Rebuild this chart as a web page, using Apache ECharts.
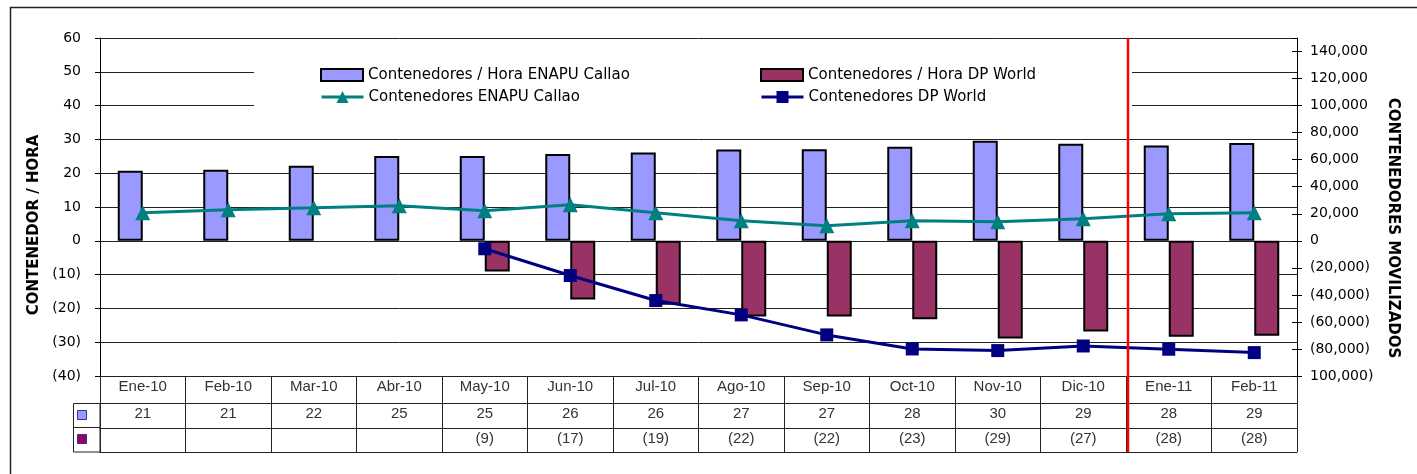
<!DOCTYPE html>
<html>
<head>
<meta charset="utf-8">
<script src="https://cdn.jsdelivr.net/npm/echarts@6/dist/echarts.min.js"></script>
<style>html,body{margin:0;padding:0;background:#fff}#c{width:1417px;height:474px}</style>
</head>
<body>
<div id="c"></div>
<script>
const months = ['Ene-10','Feb-10','Mar-10','Abr-10','May-10','Jun-10','Jul-10','Ago-10','Sep-10','Oct-10','Nov-10','Dic-10','Ene-11','Feb-11'];
const enapuRate = [20.7,21.0,22.2,25.1,25.1,25.7,26.1,27.0,27.1,27.8,29.6,28.7,28.2,28.9];
const dpRate = [null,null,null,null,-9.1,-17.4,-18.9,-22.4,-22.4,-23.2,-28.9,-26.8,-28.4,-28.1];
const enapuCont = [20700,23000,24400,26000,22200,26700,20700,14800,11100,14800,14000,16300,20000,20700];
const dpCont = [null,null,null,null,-5900,-25700,-44200,-54800,-69600,-80000,-81200,-77800,-80200,-82700];
const names = ['Contenedores / Hora ENAPU Callao','Contenedores / Hora DP World','Contenedores ENAPU Callao','Contenedores DP World'];

const fmtThousands = v => Math.abs(v).toString().replace(/\B(?=(\d{3})+(?!\d))/g, ',');
const leftFmt = v => v < 0 ? '(' + Math.abs(v) + ')' : String(v);
const rightFmt = v => v === 0 ? '0' : (v === -100000 ? fmtThousands(v) + ')' : (v < 0 ? '(' + fmtThousands(v) + ')' : fmtThousands(v)));
const tblFont = {fontFamily:'Liberation Sans', fontSize:15, color:'#333'};
const axFont = {fontFamily:'DejaVu Sans', fontSize:14, color:'#000'};

const chart = echarts.init(document.getElementById('c'), null, {renderer:'canvas'});
const legendBase = (name, left, top, icon, h) => ({
  data:[{name:name, icon:icon}], left:left, top:top, padding:0, itemWidth:42, itemHeight:h,
  selectedMode:false, lineStyle:{width:3}, itemStyle:{borderWidth:2},
  textStyle:{fontFamily:'DejaVu Sans', fontSize:15, color:'#000', lineHeight:16}
});
const lineAxis = {show:true, onZero:false, lineStyle:{color:'#222', width:1}};
const option = {
  animation:false,
  backgroundColor:'#fff',
  grid:{left:100, right:120, top:38, bottom:98, containLabel:false, outerBoundsMode:'none'},
  legend:[
    legendBase(names[0], 320, 67, 'rect', 12), legendBase(names[1], 760, 67, 'rect', 12),
    legendBase(names[2], 320, 89, undefined, 15), legendBase(names[3], 760, 89, undefined, 15)
  ],
  xAxis:[
    {type:'category', data:months, position:'bottom', boundaryGap:true,
     axisLine:lineAxis,
     axisTick:{show:true, interval:0, length:76, lineStyle:{color:'#222', width:1}},
     axisLabel:Object.assign({interval:0, margin:3}, tblFont), splitLine:{show:false}},
    {type:'category', data:months, position:'bottom', offset:27, boundaryGap:true,
     axisLine:lineAxis, axisTick:{show:false},
     axisLabel:Object.assign({interval:0, margin:3, formatter:(v,i)=> enapuRate[i]==null ? '' : String(Math.round(enapuRate[i]))}, tblFont)},
    {type:'category', data:months, position:'bottom', offset:52, boundaryGap:true,
     axisLine:lineAxis, axisTick:{show:false},
     axisLabel:Object.assign({interval:0, margin:3, formatter:(v,i)=> dpRate[i]==null ? '' : '(' + Math.round(Math.abs(dpRate[i])) + ')'}, tblFont)},
    {type:'category', data:months, position:'bottom', offset:76, boundaryGap:true,
     axisLine:lineAxis, axisTick:{show:false}, axisLabel:{show:false}}
  ],
  yAxis:[
    {type:'value', min:-40, max:60, interval:10, position:'left',
     name:'CONTENEDOR / HORA', nameLocation:'middle', nameRotate:90, nameGap:52,
     nameTextStyle:{fontFamily:'DejaVu Sans', fontSize:15, fontWeight:'bold', color:'#000', padding:[0,36,0,0]},
     axisLine:{show:true, onZero:false, lineStyle:{color:'#000'}},
     axisTick:{show:true, length:5, lineStyle:{color:'#000'}},
     axisLabel:Object.assign({margin:19, formatter:leftFmt}, axFont),
     splitLine:{show:true, lineStyle:{color:'#222', width:1}}},
    {type:'value', min:-100000, max:150000, interval:20000, position:'right',
     name:'CONTENEDORES MOVILIZADOS', nameLocation:'middle', nameRotate:-90, nameGap:88,
     nameTextStyle:{fontFamily:'DejaVu Sans', fontSize:15, fontWeight:'bold', color:'#000', padding:[0,0,0,42]},
     axisLine:{show:true, onZero:false, lineStyle:{color:'#000'}},
     axisTick:{show:true, length:5, lineStyle:{color:'#000'}},
     axisLabel:Object.assign({margin:13, formatter:rightFmt, showMaxLabel:false}, axFont),
     splitLine:{show:false}},
    {type:'value', min:-100000, max:150000, interval:20000, position:'right',
     axisLine:{show:false, onZero:false}, axisTick:{show:true, inside:true, length:5, lineStyle:{color:'#000'}},
     axisLabel:{show:false}, splitLine:{show:false}}
  ],
  series:[
    {name:names[0], type:'bar', data:enapuRate, xAxisIndex:0, yAxisIndex:0, barWidth:25, barGap:'0%',
     itemStyle:{color:'#9999FF', borderColor:'#000', borderWidth:2}, z:2},
    {name:names[1], type:'bar', data:dpRate, xAxisIndex:0, yAxisIndex:0, barWidth:25, barGap:'0%',
     itemStyle:{color:'#993366', borderColor:'#000', borderWidth:2}, z:2},
    {name:names[2], type:'line', data:enapuCont, xAxisIndex:0, yAxisIndex:1,
     symbol:'triangle', symbolSize:15, lineStyle:{color:'#008080', width:3},
     itemStyle:{color:'#008080'}, z:3},
    {name:names[3], type:'line', data:dpCont, xAxisIndex:0, yAxisIndex:1, connectNulls:false,
     symbol:'rect', symbolSize:13, lineStyle:{color:'#000080', width:3},
     itemStyle:{color:'#000080'}, z:3}
  ]
};
chart.setOption(option);

const xA = chart.convertToPixel({xAxisIndex:0}, months[11]);
const xB = chart.convertToPixel({xAxisIndex:0}, months[12]);
const redX = (xA + xB) / 2 + 2;
chart.setOption({
  graphic:[
    {type:'rect', z:1, silent:true, shape:{x:254, y:58, width:878, height:54}, style:{fill:'#fff'}},
    {type:'line', z:1, shape:{x1:10, y1:7.5, x2:1417, y2:7.5}, style:{stroke:'#222', lineWidth:1.5}},
    {type:'line', z:1, shape:{x1:10.5, y1:7, x2:10.5, y2:474}, style:{stroke:'#222', lineWidth:1.5}},
    {type:'rect', z:1, shape:{x:73.5, y:403.5, width:26.5, height:48.5}, style:{fill:'none', stroke:'#222', lineWidth:1}},
    {type:'line', z:1, shape:{x1:73.5, y1:427.5, x2:100, y2:427.5}, style:{stroke:'#222', lineWidth:1}},
    {type:'rect', z:2, shape:{x:77.5, y:410.5, width:9, height:9}, style:{fill:'#9999FF', stroke:'#333399', lineWidth:1}},
    {type:'rect', z:2, shape:{x:77.5, y:434.5, width:9, height:9}, style:{fill:'#990066', stroke:'#333399', lineWidth:1}},
    {type:'line', z:10, shape:{x1:redX, y1:38, x2:redX, y2:452}, style:{stroke:'#ff0000', lineWidth:2.5}}
  ]
});
</script>
</body>
</html>
